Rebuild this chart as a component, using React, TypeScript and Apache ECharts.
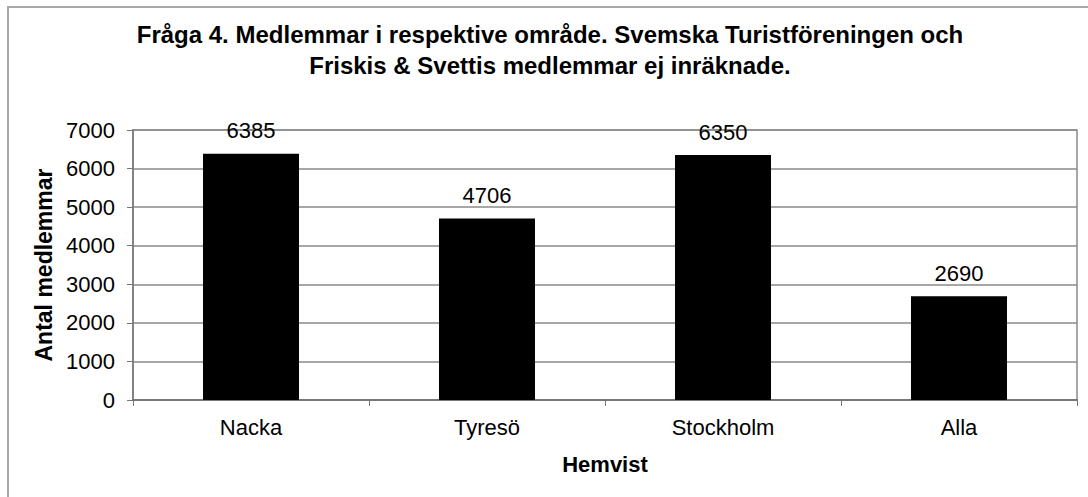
import React, { useEffect, useRef } from "react";
import * as echarts from "echarts";

const categories = ["Nacka", "Tyresö", "Stockholm", "Alla"];
const members = [6385, 4706, 6350, 2690];
const titleLines = [
  "Fråga 4. Medlemmar i respektive område. Svemska Turistföreningen och",
  "Friskis & Svettis medlemmar ej inräknade.",
];
const yAxisTitle = "Antal medlemmar";
const xAxisTitle = "Hemvist";

const FONT = "'Liberation Sans', Arial, sans-serif";

export default function App() {
  const ref = useRef<HTMLDivElement>(null);
  useEffect(() => {
    document.body.style.margin = "0";
    const chart = echarts.init(ref.current!, null, { renderer: "svg" });
    chart.setOption({
      animation: false,
      backgroundColor: "#ffffff",
      textStyle: { fontFamily: FONT },
      title: {
        text: titleLines.join("\n"),
        left: 545,
        textAlign: "center",
        top: 14,
        textStyle: {
          fontFamily: FONT,
          fontSize: 24,
          fontWeight: "bold",
          color: "#000",
          lineHeight: 31,
        },
      },
      graphic: [
        {
          type: "rect",
          z: -10,
          silent: true,
          shape: { x: 8, y: 7, width: 1200, height: 600 },
          style: { fill: "none", stroke: "#a8a8a8", lineWidth: 2 },
        },
      ],
      grid: {
        left: 133,
        top: 130,
        right: 11,
        bottom: 97,
        show: true,
        borderColor: "#8a8a8a",
        borderWidth: 1.5,
        backgroundColor: "transparent",
      },
      xAxis: {
        type: "category",
        data: categories,
        name: xAxisTitle,
        nameLocation: "middle",
        nameGap: 53,
        nameTextStyle: { fontFamily: FONT, fontSize: 22, fontWeight: "bold", color: "#000" },
        axisLine: { show: true, lineStyle: { color: "#777", width: 2 } },
        axisTick: { show: true, length: 6, alignWithLabel: false, lineStyle: { color: "#777" } },
        axisLabel: { fontFamily: FONT, fontSize: 22, color: "#000", margin: 16 },
        splitLine: { show: false },
      },
      yAxis: {
        type: "value",
        min: 0,
        max: 7000,
        interval: 1000,
        name: yAxisTitle,
        nameLocation: "middle",
        nameGap: 77,
        nameRotate: 90,
        nameTextStyle: { fontFamily: FONT, fontSize: 23, fontWeight: "bold", color: "#000" },
        axisLine: { show: true, lineStyle: { color: "#777", width: 1.5 } },
        axisTick: { show: true, length: 6, lineStyle: { color: "#777" } },
        axisLabel: {
          fontFamily: FONT,
          fontSize: 22,
          color: "#000",
          margin: 18,
          formatter: (v: number) => String(v),
        },
        splitLine: { show: true, lineStyle: { color: "#8a8a8a", width: 1.5 } },
      },
      series: [
        {
          type: "bar",
          data: members,
          barWidth: 96,
          itemStyle: { color: "#000" },
          label: {
            show: true,
            position: "top",
            distance: 12,
            fontFamily: FONT,
            fontSize: 22,
            color: "#000",
          },
        },
      ],
    });
    return () => chart.dispose();
  }, []);
  return <div ref={ref} style={{ width: 1088, height: 497 }} />;
}
